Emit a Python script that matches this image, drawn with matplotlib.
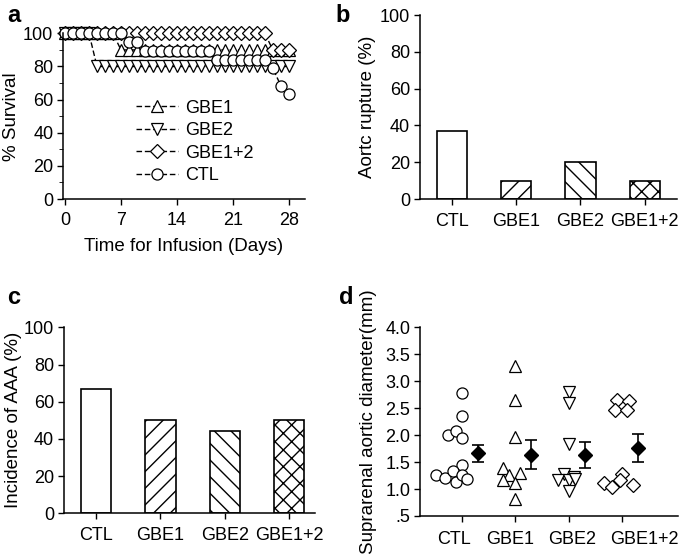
import numpy as np
import matplotlib.pyplot as plt
from matplotlib.lines import Line2D
from matplotlib.transforms import ScaledTranslation

plt.rcParams['font.family'] = ['Liberation Sans', 'DejaVu Sans']
plt.rcParams['hatch.linewidth'] = 1.0

# panel a: survival per day
days = list(range(0, 29))
surv_gbe1 = [100]*7 + [90]*22
surv_gbe2 = [100]*4 + [80]*25
surv_gbe12 = [100]*26 + [90]*3
surv_ctl = [100]*8 + [94.7]*2 + [89.5]*9 + [84.2]*7 + [78.9, 68.4, 63.2]

# panels b, c
groups = ['CTL', 'GBE1', 'GBE2', 'GBE1+2']
rupture = [36.8, 10, 20, 10]
incidence = [66.7, 50, 44.4, 50]
hatches = ['', '//', '\\\\', 'xx']

# panel d: individual diameters (value, x offset)
d_ctl = [2.78, 2.36, 2.0, 2.08, 1.94, 1.45, 1.27, 1.21, 1.34, 1.14, 1.27, 1.18]
d_ctl_x = [0, 0, -0.26, -0.11, 0, 0, -0.48, -0.31, -0.17, -0.11, 0, 0.11]
d_gbe1 = [3.28, 2.66, 1.97, 1.40, 1.27, 1.29, 1.16, 1.12, 0.81]
d_gbe1_x = [0, 0, 0, -0.22, -0.11, 0.1, -0.22, 0, 0]
d_gbe2 = [2.81, 2.59, 1.84, 1.28, 1.16, 1.16, 1.22, 1.19, 0.97]
d_gbe2_x = [0, 0, 0, -0.08, -0.2, 0, 0.1, 0.13, 0]
d_gbe12 = [2.66, 2.64, 2.47, 2.47, 1.12, 1.03, 1.28, 1.17, 1.07]
d_gbe12_x = [-0.1, 0.13, -0.13, 0.1, -0.34, -0.18, 0, -0.04, 0.2]
d_mean = [1.66, 1.64, 1.63, 1.76]
d_sem = [0.165, 0.27, 0.245, 0.26]

fig = plt.figure(figsize=(6.85, 5.56), dpi=100)

TICK = 13
LAB = 13.5

def style(ax):
    for s in ['top', 'right']:
        ax.spines[s].set_visible(False)
    for s in ['left', 'bottom']:
        ax.spines[s].set_linewidth(1.1)
    ax.tick_params(labelsize=TICK, width=1.0, length=4, direction='out', pad=3)

# ---- a ----
ax = fig.add_axes([0.092, 0.642, 0.353, 0.298])
style(ax)
series = [(surv_gbe1, '^', 'GBE1'), (surv_gbe2, 'v', 'GBE2'),
          (surv_gbe12, 'D', 'GBE1+2'), (surv_ctl, 'o', 'CTL')]
handles = []
for vals, m, lab in series:
    ms = 7.0 if m == 'D' else 8.0
    ax.plot(days, vals, color='black', lw=1.0, ls=(0, (4, 2)), marker=m, ms=ms,
            mfc='white', mec='black', mew=0.9, clip_on=False)
    handles.append(Line2D([], [], color='black', lw=1.0, ls=(0, (4, 2)), marker=m,
                          ms=ms, mfc='white', mec='black', mew=0.9))
ax.set_xlim(-0.25, 30)
ax.set_ylim(0, 100)
ax.set_xticks([0, 7, 14, 21, 28])
ax.set_yticks(range(0, 101, 20))
ax.set_yticks(range(10, 100, 20), minor=True)
ax.tick_params(axis='y', which='minor', length=3)
ax.tick_params(axis='x', pad=5)
ax.set_ylabel('% Survival', fontsize=LAB, labelpad=2)
ax.set_xlabel('Time for Infusion (Days)', fontsize=LAB, labelpad=7)
ax.legend(handles, [s[2] for s in series], loc='center left',
          bbox_to_anchor=(0.235, 0.345), frameon=False, fontsize=13,
          handlelength=2.3, labelspacing=0.3, handletextpad=0.4)

# ---- b ----
ax = fig.add_axes([0.613, 0.642, 0.375, 0.331])
style(ax)
x = np.arange(len(groups))
ax.bar(x, rupture, width=0.47, color='white', edgecolor='black', lw=1.2,
       hatch=hatches)
ax.set_xlim(-0.5, 3.5)
ax.set_ylim(0, 100)
ax.set_yticks(range(0, 101, 20))
ax.set_xticks(x)
ax.set_xticklabels(groups)
ax.tick_params(axis='x', pad=6)
ax.set_ylabel('Aortc rupture (%)', fontsize=LAB, labelpad=3)

# ---- c ----
ax = fig.add_axes([0.093, 0.077, 0.367, 0.334])
style(ax)
ax.bar(x, incidence, width=0.47, color='white', edgecolor='black', lw=1.2,
       hatch=hatches)
ax.set_xlim(-0.5, 3.4)
ax.set_ylim(0, 100)
ax.set_yticks(range(0, 101, 20))
ax.set_xticks(x)
ax.set_xticklabels(groups)
ax.tick_params(axis='x', pad=6)
ax.set_ylabel('Incidence of AAA (%)', fontsize=LAB, labelpad=1)

# ---- d ----
ax = fig.add_axes([0.613, 0.072, 0.377, 0.339])
style(ax)
pts = [(d_ctl, d_ctl_x, 'o'), (d_gbe1, d_gbe1_x, '^'),
       (d_gbe2, d_gbe2_x, 'v'), (d_gbe12, d_gbe12_x, 'D')]
for i, (vals, dx, m) in enumerate(pts):
    ms = 7.0 if m == 'D' else 8.0
    ax.plot(i + np.array(dx), vals, ls='none', marker=m, ms=ms, mfc='white',
            mec='black', mew=0.9)
ax.errorbar(x + 0.3, d_mean, yerr=d_sem, fmt='D', color='black', ms=7.5,
            capsize=4, elinewidth=1.2, capthick=1.2)
ax.set_xlim(-0.78, 4.05)
ax.set_ylim(0.5, 4.0)
yt = np.arange(0.5, 4.01, 0.5)
ax.set_yticks(yt)
ax.set_yticklabels(['.5'] + ['%.1f' % v for v in yt[1:]])
ax.set_xticks(x)
ax.set_xticklabels(groups)
ax.tick_params(axis='x', pad=7)
# labels sit a little off their ticks in the original
for lbl, dxp in zip(ax.get_xticklabels(), [-8, -5, 4, 22]):
    lbl.set_transform(lbl.get_transform() + ScaledTranslation(dxp / 100, 0, fig.dpi_scale_trans))
ax.set_ylabel('Suprarenal aortic diameter(mm)', fontsize=13.5, labelpad=6)

for lab, px, py in [('a', 0.01, 0.972), ('b', 0.49, 0.972),
                    ('c', 0.01, 0.465), ('d', 0.495, 0.465)]:
    fig.text(px, py, lab, fontsize=17, fontweight='bold', va='center')

fig.savefig('out.png', dpi=100)
